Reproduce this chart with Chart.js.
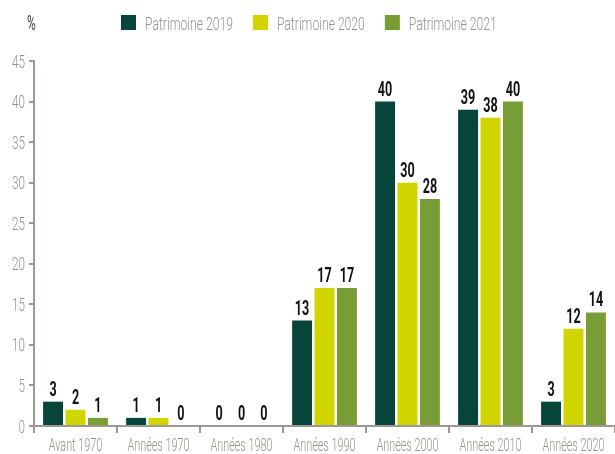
<!DOCTYPE html>
<html>
<head>
<meta charset="utf-8">
<script src="https://cdn.jsdelivr.net/npm/chart.js@4"></script>
<style>
  body { margin: 0; background: #fff; }
</style>
</head>
<body>
<canvas id="chart" width="615" height="454"></canvas>
<script>
/* Data */
let categories = ['Avant 1970', 'Années 1970', 'Années 1980', 'Années 1990', 'Années 2000', 'Années 2010', 'Années 2020']
let seriesNames = ['Patrimoine 2019', 'Patrimoine 2020', 'Patrimoine 2021']
let values2019 = [3, 1, 0, 13, 40, 39, 3]
let values2020 = [2, 1, 0, 17, 30, 38, 12]
let values2021 = [1, 0, 0, 17, 28, 40, 14]
let yTicks = [0, 5, 10, 15, 20, 25, 30, 35, 40, 45]
let unitLabel = '%'

let colors = ['#07453a', '#d0d500', '#789d37']
let fontFamily = 'Roboto, "DejaVu Sans", sans-serif'
let axisGrey = '#9d9893'
let textGrey = '#97928c'

// The reference uses a very narrow font, so squeeze text horizontally
function narrowText(ctx, text, x, y, align, squeeze) {
    ctx.save()
    ctx.translate(x, y)
    ctx.scale(squeeze, 1)
    ctx.textAlign = align
    ctx.fillText(text, 0, 0)
    ctx.restore()
    return ctx.measureText(text).width * squeeze
}

let textPlugin = {
    id: 'narrowTexts',
    afterDraw(chart) {
        let ctx = chart.ctx
        let xScale = chart.scales.x
        let yScale = chart.scales.y
        ctx.save()
        ctx.textBaseline = 'alphabetic'

        // y tick labels
        ctx.font = '300 18.5px ' + fontFamily
        ctx.fillStyle = textGrey
        yScale.ticks.forEach(function(t) {
            narrowText(ctx, String(t.value), 25, yScale.getPixelForValue(t.value) + 6.5, 'right', 0.63)
        })

        // x tick labels
        ctx.font = '300 17.5px ' + fontFamily
        categories.forEach(function(c, i) {
            narrowText(ctx, c, xScale.getPixelForValue(i), 451, 'center', 0.62)
        })

        // unit
        ctx.font = '20px ' + fontFamily
        ctx.fillStyle = '#3a3a3a'
        narrowText(ctx, unitLabel, 27, 30, 'left', 0.6)

        // legend
        ctx.font = '300 19px ' + fontFamily
        let lx = 121
        chart.data.datasets.forEach(function(ds) {
            ctx.fillStyle = ds.backgroundColor
            ctx.fillRect(lx, 15, 15, 15)
            ctx.fillStyle = textGrey
            let w = narrowText(ctx, ds.label, lx + 24, 29.5, 'left', 0.64)
            lx += 24 + w + 20
        })

        // value labels above bars
        ctx.font = 'bold 21px ' + fontFamily
        ctx.fillStyle = '#111'
        chart.data.datasets.forEach(function(ds, i) {
            chart.getDatasetMeta(i).data.forEach(function(bar, j) {
                narrowText(ctx, String(ds.data[j]), bar.x, bar.y - 6, 'center', 0.6)
            })
        })
        ctx.restore()
    }
}

let chart = new Chart(document.querySelector('#chart'), {
    type: 'bar',
    data: {
        labels: categories,
        datasets: [
            { label: seriesNames[0], data: values2019, backgroundColor: colors[0] },
            { label: seriesNames[1], data: values2020, backgroundColor: colors[1] },
            { label: seriesNames[2], data: values2021, backgroundColor: colors[2] }
        ]
    },
    options: {
        responsive: false,
        animation: false,
        layout: { padding: { top: 61, right: 0, left: 0, bottom: 0 } },
        categoryPercentage: 0.81,
        barPercentage: 0.89,
        plugins: {
            legend: { display: false },
            tooltip: { enabled: false }
        },
        scales: {
            x: {
                grid: { drawOnChartArea: false, color: axisGrey, tickLength: 7, lineWidth: 2 },
                border: { color: axisGrey, width: 2 },
                ticks: { display: false },
                afterFit: function(scale) { scale.height = 28 }
            },
            y: {
                min: 0,
                max: 45,
                afterBuildTicks: function(axis) { axis.ticks = yTicks.map(v => ({ value: v })) },
                grid: { drawOnChartArea: false, color: axisGrey, tickLength: 5, lineWidth: 2 },
                border: { color: axisGrey, width: 2 },
                ticks: { display: false },
                afterFit: function(scale) { scale.width = 34 }
            }
        }
    },
    plugins: [textPlugin]
})
</script>
</body>
</html>
